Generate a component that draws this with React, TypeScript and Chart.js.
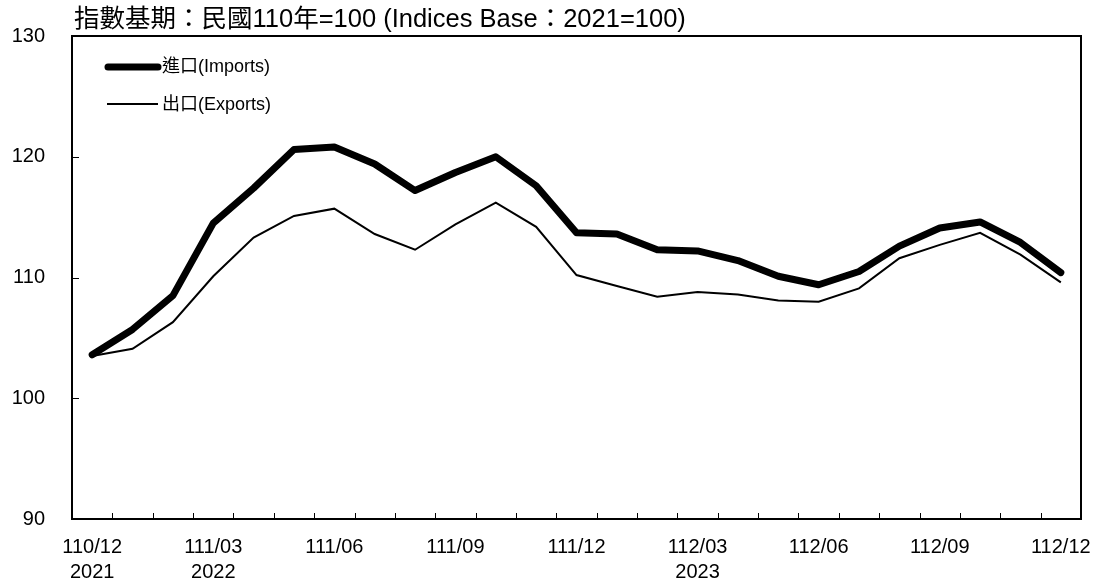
import React, { useEffect, useRef } from "react";
import { Chart, registerables } from "chart.js";

Chart.register(...registerables);

const months = [
  "110/12", "111/01", "111/02", "111/03", "111/04", "111/05", "111/06", "111/07", "111/08",
  "111/09", "111/10", "111/11", "111/12", "112/01", "112/02", "112/03", "112/04", "112/05",
  "112/06", "112/07", "112/08", "112/09", "112/10", "112/11", "112/12",
];
const yearLabels: Record<number, string> = { 0: "2021", 3: "2022", 15: "2023" };

const importsIdx = [
  103.6, 105.7, 108.5, 114.5, 117.4, 120.6, 120.8, 119.4, 117.2, 118.7, 120.0, 117.6, 113.7,
  113.6, 112.3, 112.2, 111.4, 110.1, 109.4, 110.5, 112.6, 114.1, 114.6, 112.9, 110.4,
];
const exportsIdx = [
  103.5, 104.1, 106.3, 110.1, 113.3, 115.1, 115.7, 113.6, 112.3, 114.4, 116.2, 114.2, 110.2,
  109.3, 108.4, 108.8, 108.6, 108.1, 108.0, 109.1, 111.6, 112.7, 113.7, 111.9, 109.6,
];

const titleText = "指數基期：民國110年=100 (Indices Base：2021=100)";
const seriesNames = ["進口(Imports)", "出口(Exports)"];
const yTicks = [90, 100, 110, 120, 130];

const FONT = "'Liberation Sans', Arial, 'Noto Sans CJK TC', sans-serif";

const decorPlugin = {
  id: "decor",
  afterDraw(chart: any) {
    const ctx = chart.ctx as CanvasRenderingContext2D;
    const { left, right, top, bottom } = chart.chartArea;
    const ys = chart.scales.y;
    ctx.save();
    ctx.strokeStyle = "#000";
    ctx.fillStyle = "#000";
    // border
    ctx.lineWidth = 2;
    ctx.strokeRect(left, top, right - left, bottom - top);
    // x tick marks at category boundaries
    ctx.lineWidth = 1;
    const n = months.length;
    const w = (right - left) / n;
    ctx.beginPath();
    for (let i = 1; i < n; i++) {
      const x = Math.round(left + i * w) + 0.5;
      ctx.moveTo(x, bottom);
      ctx.lineTo(x, bottom - 6);
    }
    // y tick marks
    for (const v of yTicks.slice(1, -1)) {
      const y = Math.round(ys.getPixelForValue(v)) + 0.5;
      ctx.moveTo(left, y);
      ctx.lineTo(left + 7, y);
    }
    ctx.stroke();
    // title
    ctx.font = `25.5px ${FONT}`;
    ctx.textBaseline = "middle";
    ctx.textAlign = "left";
    ctx.fillText(titleText, left + 2, 20);
    // legend
    ctx.lineCap = "round";
    ctx.lineWidth = 7;
    ctx.beginPath();
    ctx.moveTo(left + 36, 67);
    ctx.lineTo(left + 86, 67);
    ctx.stroke();
    ctx.lineCap = "butt";
    ctx.lineWidth = 2;
    ctx.beginPath();
    ctx.moveTo(left + 35, 104);
    ctx.lineTo(left + 86, 104);
    ctx.stroke();
    ctx.font = `18px ${FONT}`;
    ctx.fillText(seriesNames[0], left + 90, 67);
    ctx.fillText(seriesNames[1], left + 90, 105);
    ctx.restore();
  },
};

export default function App() {
  const ref = useRef<HTMLCanvasElement | null>(null);
  useEffect(() => {
    if (!ref.current) return;
    const chart = new Chart(ref.current, {
      type: "line",
      data: {
        labels: months,
        datasets: [
          {
            label: seriesNames[0],
            data: importsIdx,
            borderColor: "#000",
            borderWidth: 7,
            pointRadius: 0,
            borderCapStyle: "round",
            borderJoinStyle: "round",
            tension: 0,
            fill: false,
          },
          {
            label: seriesNames[1],
            data: exportsIdx,
            borderColor: "#000",
            borderWidth: 2,
            pointRadius: 0,
            tension: 0,
            fill: false,
          },
        ],
      },
      options: {
        responsive: false,
        animation: false,
        devicePixelRatio: 1,
        layout: { padding: { left: 0, top: 36, right: 20, bottom: 0 } },
        plugins: {
          legend: { display: false },
          title: { display: false },
          tooltip: { enabled: false },
        },
        scales: {
          x: {
            type: "category",
            offset: true,
            grid: { display: false, drawTicks: false },
            border: { display: false },
            ticks: {
              autoSkip: false,
              maxRotation: 0,
              minRotation: 0,
              padding: 16,
              color: "#000",
              font: { family: FONT, size: 20, lineHeight: 1.25 },
              callback: (_v: any, i: number) => {
                if (i % 3 !== 0) return null;
                return yearLabels[i] ? [months[i], yearLabels[i]] : months[i];
              },
            },
            afterFit: (s: any) => {
              s.height = 66;
              s.paddingLeft = 0;
              s.paddingRight = 0;
            },
          },
          y: {
            min: 90,
            max: 130,
            grid: { display: false, drawTicks: false },
            border: { display: false },
            ticks: {
              stepSize: 10,
              padding: 27,
              color: "#000",
              font: { family: FONT, size: 20 },
            },
            afterFit: (s: any) => {
              s.width = 72;
              s.paddingTop = 0;
              s.paddingBottom = 0;
            },
          },
        },
      },
      plugins: [decorPlugin],
    });
    return () => chart.destroy();
  }, []);
  return (
    <div style={{ position: "absolute", left: 0, top: 0, width: 1101, height: 585, background: "#fff" }}>
      <canvas ref={ref} width={1101} height={585} />
    </div>
  );
}
